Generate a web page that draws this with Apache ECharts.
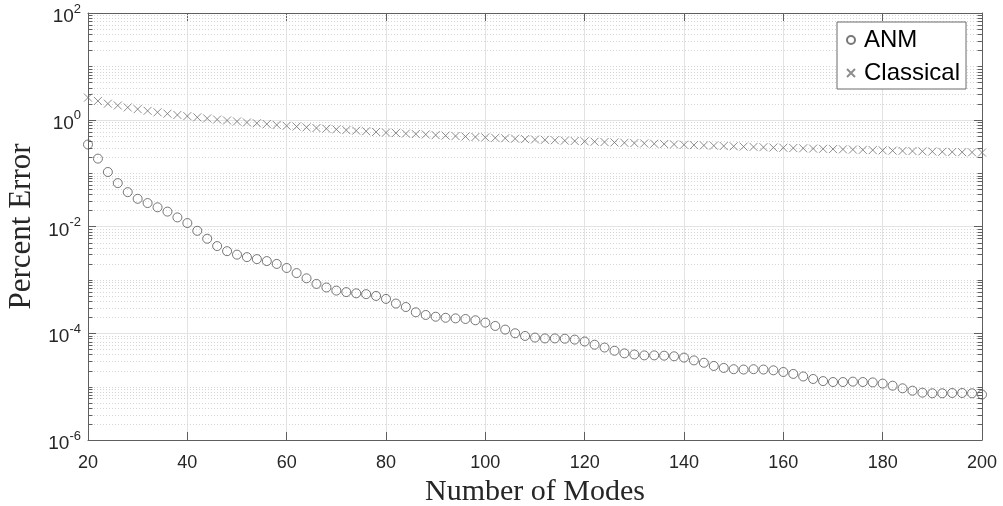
<!DOCTYPE html>
<html>
<head>
<meta charset="utf-8">
<script src="https://cdn.jsdelivr.net/npm/echarts@6/dist/echarts.min.js"></script>
<style>
  html, body { margin: 0; padding: 0; background: #fff; }
  #chart { width: 1003px; height: 506px; }
</style>
</head>
<body>
<div id="chart"></div>
<script>
// number of modes (x)
const modes = [
  20, 22, 24, 26, 28, 30, 32, 34, 36, 38,
  40, 42, 44, 46, 48, 50, 52, 54, 56, 58,
  60, 62, 64, 66, 68, 70, 72, 74, 76, 78,
  80, 82, 84, 86, 88, 90, 92, 94, 96, 98,
  100, 102, 104, 106, 108, 110, 112, 114, 116, 118,
  120, 122, 124, 126, 128, 130, 132, 134, 136, 138,
  140, 142, 144, 146, 148, 150, 152, 154, 156, 158,
  160, 162, 164, 166, 168, 170, 172, 174, 176, 178,
  180, 182, 184, 186, 188, 190, 192, 194, 196, 198,
  200
];

// percent error, ANM
const anmErr = [
  0.344, 0.187, 0.105, 0.065, 0.044, 0.033, 0.0275, 0.0229, 0.019, 0.0148,
  0.0116, 0.0083, 0.0059, 0.0043, 0.00345, 0.00297, 0.00267, 0.00245, 0.00225, 0.00199,
  0.00167, 0.00134, 0.00107, 0.00084, 0.00072, 0.00063, 0.00059, 0.00056, 0.00054, 0.0005,
  0.00044, 0.00036, 0.00031, 0.000247, 0.00022, 0.000204, 0.000195, 0.00019, 0.000185, 0.000175,
  0.000158, 0.000137, 0.000117, 0.0001, 0.000089, 0.000083, 0.00008, 0.00008, 0.000079, 0.000076,
  0.00007, 0.000061, 0.000054, 0.000047, 0.000042, 0.00004, 0.0000385, 0.0000385, 0.000038, 0.000037,
  0.000035, 0.000031, 0.000028, 0.0000244, 0.0000224, 0.0000212, 0.0000209, 0.0000212, 0.0000209, 0.0000202,
  0.0000188, 0.0000173, 0.0000155, 0.0000139, 0.0000127, 0.0000122, 0.0000122, 0.0000124, 0.0000122, 0.000012,
  0.0000114, 0.0000104, 0.0000093, 0.0000084, 0.0000077, 0.0000075, 0.0000075, 0.0000076, 0.0000076, 0.0000075,
  0.0000071
];

// percent error, classical
const classicalErr = [
  2.6, 2.25, 2.0, 1.85, 1.7, 1.58, 1.47, 1.38, 1.30, 1.23,
  1.17, 1.11, 1.06, 1.01, 0.97, 0.93, 0.89, 0.86, 0.83, 0.80,
  0.77, 0.745, 0.72, 0.70, 0.68, 0.66, 0.64, 0.625, 0.61, 0.59,
  0.575, 0.565, 0.55, 0.54, 0.53, 0.515, 0.505, 0.495, 0.485, 0.475,
  0.467, 0.458, 0.45, 0.442, 0.434, 0.427, 0.42, 0.413, 0.406, 0.40,
  0.394, 0.388, 0.382, 0.376, 0.37, 0.365, 0.36, 0.355, 0.35, 0.345,
  0.34, 0.335, 0.331, 0.327, 0.322, 0.318, 0.314, 0.31, 0.306, 0.302,
  0.299, 0.295, 0.292, 0.288, 0.285, 0.282, 0.279, 0.276, 0.273, 0.27,
  0.267, 0.264, 0.261, 0.259, 0.256, 0.254, 0.251, 0.249, 0.247, 0.245,
  0.243
];

const xTicks = [20, 40, 60, 80, 100, 120, 140, 160, 180, 200];
const yExps = [-6, -4, -2, 0, 2];

// minor log grid: 2..9 in each decade, plus the unlabelled decades
const minorGrid = [];
for (let e = yExps[0]; e < yExps[yExps.length - 1]; e++) {
  for (let m = 2; m <= 10; m++) {
    if (m === 10 && (e + 1) % 2 === 0) continue;
    minorGrid.push([xTicks[0], m * Math.pow(10, e)]);
  }
}

const chart = echarts.init(document.getElementById('chart'));
const axisCol = '#5f5f5f';
const txtCol = '#262626';
const crossPath = 'path://M0,0L10,10M10,0L0,10';

chart.setOption({
  animation: false,
  grid: { left: 88, right: 21, top: 13, bottom: 66, outerBoundsMode: 'none', containLabel: false },
  legend: {
    left: 837,
    top: 22,
    orient: 'vertical',
    itemWidth: 8,
    itemHeight: 8,
    itemGap: 9,
    padding: [6, 6, 4, 9],
    backgroundColor: '#fff',
    borderColor: '#6a6a6a',
    borderWidth: 1,
    textStyle: { fontFamily: 'Liberation Sans', fontSize: 24, color: '#000', padding: [0, 0, 0, 4] },
    data: [
      { name: 'ANM', icon: 'circle' },
      { name: 'Classical', icon: crossPath }
    ]
  },
  xAxis: [
    {
      type: 'value',
      min: 20,
      max: 200,
      interval: 20,
      name: 'Number of Modes',
      nameLocation: 'middle',
      nameGap: 30,
      nameTextStyle: { fontFamily: 'Liberation Serif', fontSize: 30, color: txtCol },
      axisLine: { onZero: false, lineStyle: { color: axisCol, width: 1 } },
      axisTick: { inside: true, length: 8, lineStyle: { color: axisCol } },
      axisLabel: { fontFamily: 'Liberation Sans', fontSize: 18, color: txtCol, margin: 14 },
      splitLine: { show: true, lineStyle: { color: '#e3e3e3', width: 1 } }
    },
    {
      type: 'value',
      position: 'top',
      min: 20,
      max: 200,
      interval: 20,
      axisLine: { onZero: false, lineStyle: { color: axisCol, width: 1 } },
      axisTick: { inside: true, length: 8, lineStyle: { color: axisCol } },
      axisLabel: { show: false },
      splitLine: { show: false }
    }
  ],
  yAxis: [
    {
      type: 'log',
      logBase: 10,
      min: 1e-6,
      max: 1e2,
      interval: 2,
      name: 'Percent Error',
      nameLocation: 'middle',
      nameRotate: 90,
      nameGap: 46,
      nameTextStyle: { fontFamily: 'Liberation Serif', fontSize: 31, color: txtCol },
      axisLine: { show: true, lineStyle: { color: axisCol, width: 1 } },
      axisTick: { inside: true, length: 8, lineStyle: { color: axisCol } },
      axisLabel: {
        margin: 7,
        formatter: function (v) {
          const e = Math.round(Math.log10(v));
          return '{b|10}{s|' + e + '}';
        },
        rich: {
          b: { fontFamily: 'Liberation Sans', fontSize: 19, color: txtCol, padding: [8, 0, 0, 0] },
          s: { fontFamily: 'Liberation Sans', fontSize: 13, color: txtCol, padding: [0, 0, 8, 0] }
        }
      },
      splitLine: { show: true, lineStyle: { color: '#e3e3e3', width: 1 } }
    },
    {
      type: 'log',
      logBase: 10,
      position: 'right',
      min: 1e-6,
      max: 1e2,
      interval: 2,
      axisLine: { show: true, lineStyle: { color: axisCol, width: 1 } },
      axisTick: { inside: true, length: 8, lineStyle: { color: axisCol } },
      axisLabel: { show: false },
      splitLine: { show: false }
    }
  ],
  series: [
    {
      name: 'minor',
      type: 'custom',
      silent: true,
      z: 1,
      data: minorGrid,
      renderItem: function (params, api) {
        const y = Math.round(api.coord([api.value(0), api.value(1)])[1]) + 0.5;
        const cs = params.coordSys;
        const x0 = cs.x, x1 = cs.x + cs.width;
        return {
          type: 'group',
          children: [
            { type: 'line', shape: { x1: x0, y1: y, x2: x1, y2: y }, style: { stroke: '#d6d6d6', lineWidth: 1, lineDash: [1, 2] } },
            { type: 'line', shape: { x1: x0, y1: y, x2: x0 + 4.5, y2: y }, style: { stroke: axisCol, lineWidth: 1 } },
            { type: 'line', shape: { x1: x1 - 4.5, y1: y, x2: x1, y2: y }, style: { stroke: axisCol, lineWidth: 1 } }
          ]
        };
      }
    },
    {
      name: 'ANM',
      type: 'scatter',
      z: 3,
      symbol: 'circle',
      symbolSize: 9,
      itemStyle: { color: 'transparent', borderColor: '#555', borderWidth: 1 },
      data: modes.map((m, i) => [m, anmErr[i]])
    },
    {
      name: 'Classical',
      type: 'scatter',
      z: 3,
      symbol: crossPath,
      symbolSize: 8,
      itemStyle: { color: 'transparent', borderColor: '#707070', borderWidth: 1 },
      data: modes.map((m, i) => [m, classicalErr[i]])
    }
  ]
});
</script>
</body>
</html>
